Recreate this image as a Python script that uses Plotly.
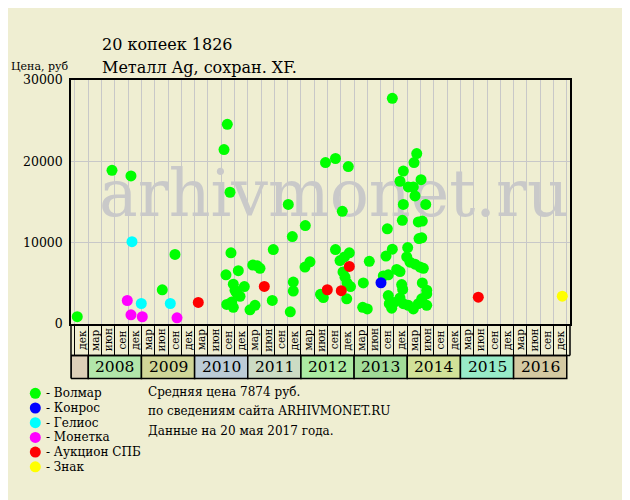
import plotly.graph_objects as go

# ---------------- data ----------------
green_x = [2007.793, 2008.446, 2008.803, 2009.392, 2009.631, 2010.553, 2010.615, 2010.666, 2010.684, 2010.590,
           2010.822, 2010.728, 2010.935, 2010.760, 2010.792, 2010.854, 2010.604, 2010.698, 2010.728, 2011.042,
           2011.093, 2011.179, 2011.230, 2011.136, 2011.461, 2011.480, 2011.762, 2011.800, 2011.838, 2011.856,
           2011.856, 2012.082, 2012.076, 2012.170, 2012.368, 2012.421, 2012.462, 2012.650, 2012.650, 2012.735,
           2012.778, 2012.791, 2012.819, 2012.829, 2012.861, 2012.866, 2012.891, 2012.910, 2012.932, 2013.162,
           2013.173, 2013.248, 2013.286, 2013.549, 2013.600, 2013.625, 2013.643, 2013.643, 2013.662, 2013.707,
           2013.719, 2013.719, 2013.750, 2013.801, 2013.863, 2013.863, 2013.863, 2013.895, 2013.907, 2013.914,
           2013.926, 2013.926, 2013.926, 2013.990, 2014.008, 2014.020, 2014.020, 2014.052, 2014.114, 2014.114,
           2014.127, 2014.146, 2014.146, 2014.178, 2014.208, 2014.208, 2014.221, 2014.240, 2014.259, 2014.272,
           2014.272, 2014.283, 2014.283, 2014.302, 2014.347, 2014.366, 2014.366, 2014.366]
green_y = [900, 18900, 18200, 4200, 8550, 21450, 24550, 16200, 8750, 6050,
           6550, 4900, 4600, 4150, 3800, 3400, 2400, 2700, 2050, 1750,
           7250, 7150, 6850, 2300, 2900, 9150, 14700, 1500, 10750, 5150,
           4050, 12100, 7000, 7650, 3650, 3250, 19850, 20350, 9150, 7800,
           13850, 6400, 8250, 5750, 3100, 5050, 19350, 8750, 4600, 2050,
           5050, 1850, 7700, 5900, 8350, 11700, 6050, 3500, 2500, 1950,
           27750, 9200, 2650, 6700, 17550, 6450, 3200, 4850, 12750, 4250,
           18800, 14700, 2500, 8250, 9400, 16850, 2300, 7600, 16850, 1850,
           19850, 15750, 7350, 20950, 12550, 2500, 10500, 7000, 17750, 10600,
           3100, 12650, 5050, 6850, 14700, 4150, 3700, 2300]

blue_x = [2013.506]
blue_y = [5070]

cyan_x = [2008.822, 2008.997, 2009.543]
cyan_y = [10120, 2520, 2520]

magenta_x = [2008.734, 2008.803, 2009.016, 2009.669]
magenta_y = [2890, 1130, 890, 760]

red_x = [2010.069, 2011.311, 2012.496, 2012.759, 2012.910, 2015.336]
red_y = [2650, 4620, 4210, 4090, 7080, 3300]

yellow_x = [2016.916]
yellow_y = [3420]

quarter_labels = ["мар", "июн", "сен", "дек"]
first_label = "дек"
years = [2008, 2009, 2010, 2011, 2012, 2013, 2014, 2015, 2016]
year_colors = ["#B2E6AA", "#D0D698", "#BCCCD6", "#CCDCC4", "#ACEBA2", "#A2DC98",
               "#D2E198", "#98EBC8", "#D4C9A2"]
blank_year_color = "#DDD0B8"

y_ticks = [0, 10000, 20000, 30000]

legend_names = ["- Волмар", "- Конрос", "- Гелиос", "- Монетка", "- Аукцион СПБ", "- Знак"]
legend_colors = ["#00FF00", "#0000FF", "#00FFFF", "#FF00FF", "#FF0000", "#FFFF00"]

title_line1 = "20 копеек 1826"
title_line2 = "Металл Ag, сохран. XF."
y_label = "Цена, руб"
footer_lines = ["Средняя цена 7874 руб.",
                "по сведениям сайта ARHIVMONET.RU",
                "Данные на 20 мая 2017 года."]

# ---------------- figure ----------------
BG = "#EFEED2"
FONT = "DejaVu Serif"
W, H = 630, 500
OFF = 8  # page body margin
# plot area in screen pixels: x 71..570, y 80..324
L, T = 71 - OFF, 80 - OFF
R, B = W - (570 - OFF), H - (324 - OFF)
PW, PH = W - L - R, H - T - B
X0, X1 = 2007.675, 2017.061


def px_to_paper_x(px):
    return (px - 71) / PW


def py_to_paper_y(py):
    return (324 - py) / PH


fig = go.Figure()

# watermark
fig.add_trace(go.Scatter(x=[2012.62], y=[15300], mode="text", text=["arhivmonet.ru"],
                         textfont=dict(family=FONT, size=65, color="#C9C9C9"),
                         hoverinfo="skip", showlegend=False))

series = [(green_x, green_y, legend_colors[0]), (blue_x, blue_y, legend_colors[1]),
          (cyan_x, cyan_y, legend_colors[2]), (magenta_x, magenta_y, legend_colors[3]),
          (red_x, red_y, legend_colors[4]), (yellow_x, yellow_y, legend_colors[5])]
for xs, ys, col in series:
    fig.add_trace(go.Scatter(x=xs, y=ys, mode="markers",
                             marker=dict(size=11, color=col, line=dict(width=0)),
                             showlegend=False, hoverinfo="skip"))

shapes = []
annotations = []

label_row_bottom = py_to_paper_y(355.5)
year_row_bottom = py_to_paper_y(378.5)

# year cells
shapes.append(dict(type="rect", xref="x", yref="paper", x0=X0, x1=2008.0,
                   y0=year_row_bottom, y1=label_row_bottom, fillcolor=blank_year_color,
                   line=dict(color="black", width=1.5), layer="above"))
for yr, col in zip(years, year_colors):
    shapes.append(dict(type="rect", xref="x", yref="paper", x0=yr, x1=yr + 1,
                       y0=year_row_bottom, y1=label_row_bottom, fillcolor=col,
                       line=dict(color="black", width=1.5), layer="above"))
    annotations.append(dict(x=yr + 0.5, y=(year_row_bottom + label_row_bottom) / 2,
                            xref="x", yref="paper", text=str(yr), showarrow=False,
                            font=dict(family=FONT, size=15.5, color="black"),
                            xanchor="center", yanchor="middle"))

# label-row frame
shapes.append(dict(type="line", xref="paper", yref="paper", x0=0, x1=0, y0=0,
                   y1=year_row_bottom, line=dict(color="black", width=1.5)))
shapes.append(dict(type="line", xref="paper", yref="paper", x0=1, x1=1, y0=0,
                   y1=label_row_bottom, line=dict(color="black", width=1.5)))
shapes.append(dict(type="line", xref="paper", yref="paper", x0=0, x1=1, y0=label_row_bottom,
                   y1=label_row_bottom, line=dict(color="black", width=1.5)))

# rotated quarter labels
qlabels = [first_label] + [q for _ in years for q in quarter_labels]
for k, lab in enumerate(qlabels):
    annotations.append(dict(x=2007.75 + 0.25 * k + 0.125, y=py_to_paper_y(340),
                            xref="x", yref="paper", text=lab, showarrow=False, textangle=-90,
                            font=dict(family=FONT, size=10.5, color="black"),
                            xanchor="center", yanchor="middle"))

# titles
annotations.append(dict(x=px_to_paper_x(100), y=py_to_paper_y(44), xref="paper", yref="paper",
                        text=title_line1, showarrow=False, xanchor="left", yanchor="middle",
                        font=dict(family=FONT, size=16, color="black")))
annotations.append(dict(x=px_to_paper_x(100), y=py_to_paper_y(67), xref="paper", yref="paper",
                        text=title_line2, showarrow=False, xanchor="left", yanchor="middle",
                        font=dict(family=FONT, size=16, color="black")))
annotations.append(dict(x=px_to_paper_x(9), y=py_to_paper_y(66), xref="paper", yref="paper",
                        text=y_label, showarrow=False, xanchor="left", yanchor="middle",
                        font=dict(family=FONT, size=11, color="black")))

# legend
leg_y = [393.3, 408, 422.7, 437.4, 452.1, 466.8]
for name, col, py in zip(legend_names, legend_colors, leg_y):
    shapes.append(dict(type="circle", xref="paper", yref="paper",
                       xsizemode="pixel", ysizemode="pixel",
                       xanchor=px_to_paper_x(35.3), yanchor=py_to_paper_y(py),
                       x0=-5.5, x1=5.5, y0=-5.5, y1=5.5,
                       fillcolor=col, line=dict(width=0)))
    annotations.append(dict(x=px_to_paper_x(44), y=py_to_paper_y(py), xref="paper", yref="paper",
                            text=name, showarrow=False, xanchor="left", yanchor="middle",
                            font=dict(family=FONT, size=12, color="black")))

# footer
for txt, py in zip(footer_lines, [392, 411, 430.5]):
    annotations.append(dict(x=px_to_paper_x(146), y=py_to_paper_y(py), xref="paper", yref="paper",
                            text=txt, showarrow=False, xanchor="left", yanchor="middle",
                            font=dict(family=FONT, size=12, color="black")))

fig.update_layout(
    width=W, height=H,
    margin=dict(l=L, r=R, t=T, b=B, pad=0),
    paper_bgcolor=BG, plot_bgcolor=BG,
    showlegend=False,
    xaxis=dict(range=[X0, X1], tick0=2007.75, dtick=0.25, showgrid=True,
               gridcolor="#C8C8C8", gridwidth=1, showticklabels=False,
               ticks="outside", ticklen=31, tickcolor="black", tickwidth=1,
               showline=True, mirror=True, linecolor="black", linewidth=1.5,
               zeroline=False, fixedrange=True),
    yaxis=dict(range=[0, 30000], tickvals=y_ticks, ticktext=[str(v) for v in y_ticks],
               showgrid=True, gridcolor="#C8C8C8", gridwidth=1, ticks="",
               showline=True, mirror=True, linecolor="black", linewidth=1.5,
               zeroline=False, tickfont=dict(family=FONT, size=12.5, color="black"),
               ticklabelstandoff=4, fixedrange=True),
    shapes=shapes,
    annotations=annotations,
)

fig.write_html("out.html")
